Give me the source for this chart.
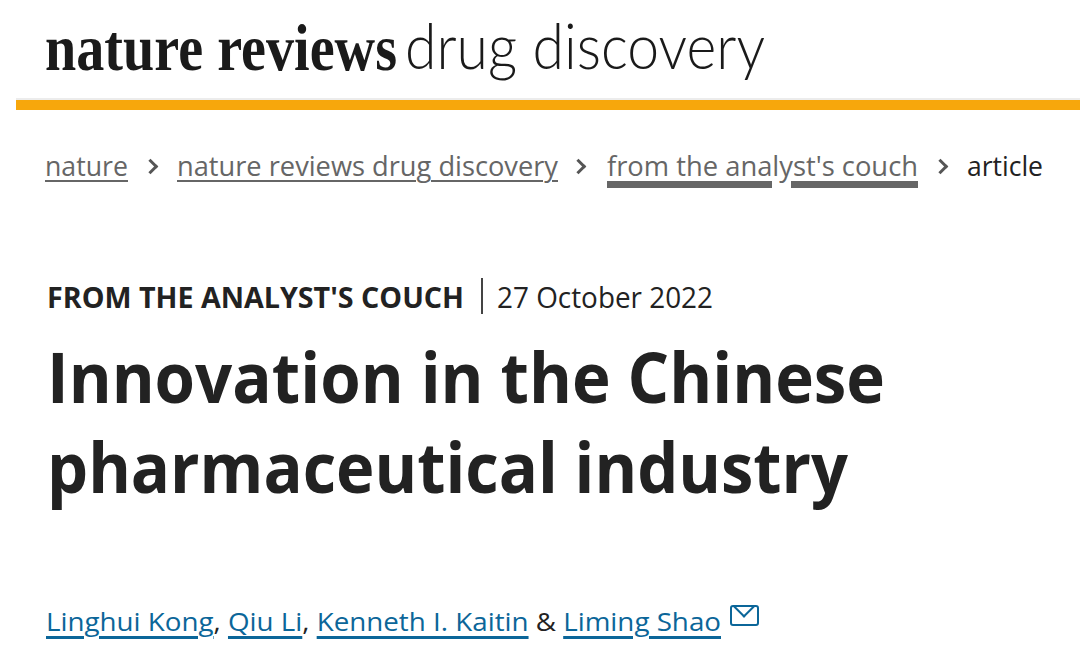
<!DOCTYPE html>
<html>
<head>
<meta charset="utf-8">
<script src="https://cdn.jsdelivr.net/npm/chart.js@4"></script>
<style>
  html, body { margin: 0; padding: 0; background: #fff; }
  body { width: 1080px; height: 665px; position: relative; overflow: hidden; font-family: "Open Sans", sans-serif; color: #222; }
  .t { position: absolute; white-space: nowrap; line-height: 1; transform-origin: 0 0; }
  .bar { position: absolute; left: 16px; top: 100px; width: 1064px; height: 10px; background: #f7a70c; }
  .barTop { position: absolute; left: 16px; top: 98px; width: 1064px; height: 2px; background: #ececec; }
  .chev { position: absolute; width: 8px; height: 8px; border-top: 3px solid #555; border-right: 3px solid #555; transform: rotate(45deg); }
  .crumb { color: #666; text-decoration: underline; text-decoration-thickness: 2px; text-underline-offset: 4px; }
  .crumb.thick { text-decoration-thickness: 7px; text-underline-offset: 5px; }
  .author { color: #0b6699; text-decoration: underline; text-decoration-thickness: 3px; text-underline-offset: 5px; }
  .sep { position: absolute; left: 481px; top: 278px; width: 2px; height: 36px; background: #444; }
  .mail { position: absolute; left: 730px; top: 605px; width: 25px; height: 17px; border: 2px solid #0b6699; border-radius: 3px; overflow: hidden; }
  .mail::before { content: ""; position: absolute; left: 3px; top: -11px; width: 16px; height: 16px; border-right: 2px solid #0b6699; border-bottom: 2px solid #0b6699; transform: rotate(45deg); }
</style>
</head>
<body>
<div class="barTop"></div>
<div class="bar"></div>
<div id="page"></div>
<script>
const logoBold = 'nature reviews';
const logoLight = 'drug discovery';
const crumbs = ['nature', 'nature reviews drug discovery', "from the analyst's couch", 'article'];
const crumbLeft = [45, 177, 607, 967];
const crumbWidth = [83, 381, 311, 76];
const kicker = "FROM THE ANALYST'S COUCH";
const dateText = '27 October 2022';
const titleLines = ['Innovation in the Chinese', 'pharmaceutical industry'];
const authors = ['Linghui Kong', 'Qiu Li', 'Kenneth I. Kaitin', 'Liming Shao'];

const page = document.getElementById('page');

// place a text so that its baseline sits at y and it spans width w
function put(html, opts) {
  const el = document.createElement('div');
  el.className = 't';
  el.innerHTML = html;
  el.style.left = opts.x + 'px';
  el.style.fontSize = opts.size + 'px';
  el.style.fontFamily = opts.font || '"Open Sans", sans-serif';
  el.style.fontWeight = opts.weight || 400;
  if (opts.color) el.style.color = opts.color;
  el.style.top = (opts.base - opts.asc * opts.size) + 'px';
  page.appendChild(el);
  if (opts.w) {
    const k = opts.w / el.getBoundingClientRect().width;
    el.style.transform = 'scaleX(' + k + ')';
  }
  return el;
}

put(logoBold, { x: 45, base: 70, size: 66, asc: 0.837, w: 352, weight: 700,
  font: '"Liberation Serif", serif', color: '#1a1a1a' });
put(logoLight, { x: 405, base: 70, size: 64, asc: 0.887, w: 360, weight: 300,
  font: 'Lato, sans-serif', color: '#1a1a1a' });

crumbs.forEach((c, i) => {
  const last = i === crumbs.length - 1;
  const cls = last ? '' : (i === 2 ? 'crumb thick' : 'crumb');
  put('<span class="' + cls + '">' + c + '</span>', { x: crumbLeft[i], base: 176, size: 27, asc: 0.888,
    w: crumbWidth[i], color: last ? '#222' : '#666' });
});
[150, 578, 940].forEach(x => {
  const ch = document.createElement('div');
  ch.className = 'chev';
  ch.style.left = (x - 5) + 'px';
  ch.style.top = '161px';
  page.appendChild(ch);
});

put(kicker, { x: 47, base: 308, size: 29, asc: 0.888, w: 417, weight: 700 });
const sep = document.createElement('div');
sep.className = 'sep';
page.appendChild(sep);
put(dateText, { x: 497, base: 308, size: 29, asc: 0.888, w: 216 });

put(titleLines[0], { x: 47, base: 403, size: 70, asc: 0.888, w: 838, weight: 700 });
put(titleLines[1], { x: 47, base: 493, size: 70, asc: 0.888, w: 801, weight: 700 });

const authorHtml = authors.map(a => '<span class="author">' + a + '</span>');
const line = authorHtml[0] + ', ' + authorHtml[1] + ', ' + authorHtml[2] + ' &amp; ' + authorHtml[3];
put(line, { x: 46, base: 631, size: 26, asc: 0.888, w: 675 });
const mail = document.createElement('div');
mail.className = 'mail';
page.appendChild(mail);
</script>
</body>
</html>
